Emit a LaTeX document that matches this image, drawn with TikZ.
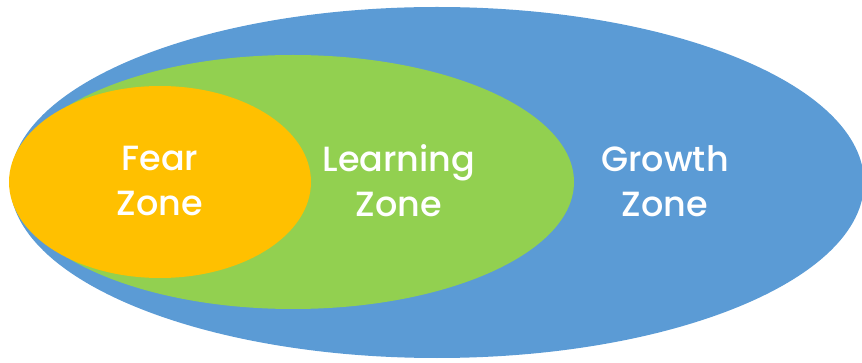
\documentclass[tikz,border=0pt]{standalone}
\usepackage{fontspec}
\setmainfont{Poppins Medium}
\usetikzlibrary{shapes.geometric}

\definecolor{growthblue}{HTML}{5B9BD5}
\definecolor{learngreen}{HTML}{92D050}
\definecolor{fearorange}{HTML}{FFC000}

\tikzset{
  zone/.style={ellipse, inner sep=0pt},
  zonetext/.style={text=white, align=center, font=\fontsize{35}{45}\selectfont}
}

\begin{document}
\begin{tikzpicture}[x=1pt, y=-1pt]
    \useasboundingbox (0,0) rectangle (862,363);
    % the three zones
    \node[zone, fill=growthblue, minimum width=854pt, minimum height=351pt] (growth) at (437,182.5) {};
    \node[zone, fill=learngreen, minimum width=562pt, minimum height=254pt] (learning) at (293,182) {};
    \node[zone, fill=fearorange, minimum width=302pt, minimum height=192pt] (fear) at (160,182) {};

    \node[zonetext] (feartext) at (160,181) {Fear\\Zone};
    \node[zonetext] (learningtext) at (399,181) {Learning\\Zone};
    \node[zonetext] (growthtext) at (665,181) {Growth\\Zone};
\end{tikzpicture}
\end{document}
